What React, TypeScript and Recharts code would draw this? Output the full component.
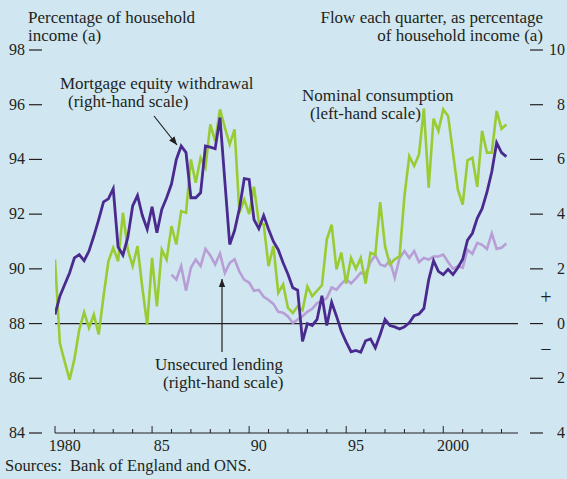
import { Line, LineChart, ReferenceLine, XAxis, YAxis } from "recharts";

const START_YEAR = 1980;

// Nominal consumption, % of household income (left-hand scale)
const consumption = [
  90.34, 87.29, 86.6, 85.95, 86.7, 87.78, 88.41, 87.84, 88.33, 87.6,
  89.0, 90.28, 90.77, 90.28, 92.05, 90.7, 90.1, 90.83, 89.3, 87.95,
  90.4, 88.63, 90.7, 90.34, 91.56, 90.89, 92.11, 92.05, 94.0, 93.15,
  94.06, 93.7, 95.28, 94.67, 95.83, 95.16, 94.55, 95.1, 92.05, 92.54,
  92.0, 93.0, 91.7, 91.62, 90.1, 90.83, 89.12, 89.43, 88.57, 88.39,
  88.63, 88.49, 89.36, 89.0, 89.2, 89.4, 91.07, 91.62, 89.98, 90.59,
  89.46, 90.4, 90.0, 90.4, 89.46, 90.59, 90.52, 92.44, 90.83, 90.16,
  90.35, 90.46, 92.66, 94.12, 93.76, 94.18, 95.86, 92.97, 95.49, 95.04,
  95.83, 95.59, 94.25, 92.9, 92.35, 93.97, 94.06, 93.0, 95.04, 94.25,
  94.25, 95.77, 95.12, 95.28,
];

// Mortgage equity withdrawal, flow as % of household income (right-hand scale)
const mortgageEquityWithdrawal = [
  0.33, 1.0, 1.43, 1.85, 2.4, 2.52, 2.3, 2.65, 3.2, 3.8,
  4.45, 4.56, 4.93, 2.8, 2.5, 3.15, 4.3, 4.68, 3.95, 3.45,
  4.27, 3.32, 4.17, 4.6, 5.1, 6.0, 6.49, 6.25, 4.6, 4.6,
  4.78, 6.49, 6.45, 6.39, 7.53, 5.2, 2.89, 3.4, 4.2, 5.3,
  5.27, 3.8, 3.47, 3.95, 3.45, 3.0, 2.7, 2.22, 1.8, 1.31,
  1.22, -0.65, 0.0, -0.07, 0.15, 1.02, -0.07, 0.78, 0.27, -0.28,
  -0.68, -1.03, -0.98, -1.05, -0.63, -0.56, -0.89, -0.4, 0.15, -0.07,
  -0.12, -0.2, -0.12, 0.03, 0.29, 0.35, 0.55, 1.6, 2.3, 1.91,
  1.79, 1.98, 1.79, 2.04, 2.35, 3.05, 3.3, 3.85, 4.2, 4.8,
  5.55, 6.61, 6.25, 6.1,
];

// Unsecured lending, flow as % of household income (right-hand scale), from 1986
const unsecuredLending = [
  null, null, null, null, null, null, null, null, null, null,
  null, null, null, null, null, null, null, null, null, null,
  null, null, null, null, 1.79, 1.61, 2.1, 1.2, 2.04, 2.34,
  2.1, 2.73, 2.49, 2.16, 2.56, 1.85, 2.22, 2.35, 1.9, 1.6,
  1.5, 1.2, 1.23, 0.98, 0.86, 0.72, 0.43, 0.4, 0.26, 0.02,
  0.15, 0.27, 0.43, 0.54, 0.75, 0.82, 0.93, 1.32, 1.24, 1.45,
  1.63, 1.47, 1.65, 1.86, 1.8, 2.25, 2.5, 2.16, 2.1, 2.3,
  1.67, 2.4, 2.65, 2.4, 2.65, 2.25, 2.4, 2.34, 2.45, 2.45,
  2.52, 2.25, 2.0, 2.1, 2.04, 2.7, 2.55, 2.95, 2.88, 2.73,
  3.3, 2.73, 2.77, 2.93,
];

const yearTicks = [
  1980, 1981, 1982, 1983, 1984, 1985, 1986, 1987, 1988, 1989, 1990, 1991,
  1992, 1993, 1994, 1995, 1996, 1997, 1998, 1999, 2000, 2001, 2002, 2003,
];
const labelledYears = [1980, 1985, 1990, 1995, 2000];
const leftTicks = [84, 86, 88, 90, 92, 94, 96, 98];
const rightTicks = [-4, -2, 0, 2, 4, 6, 8, 10];

const data = consumption.map((c, i) => ({
  t: START_YEAR + i / 4,
  consumption: c,
  mew: mortgageEquityWithdrawal[i],
  unsecured: unsecuredLending[i],
}));

const INK = "#231f20";
const FONT = "'Liberation Serif', 'Times New Roman', serif";
const FS = 16;

function XTick(props: any) {
  const { x, y, payload } = props;
  const v = payload.value;
  if (Number.isInteger(v)) {
    const major = v % 5 === 0;
    return (
      <line x1={x} x2={x} y1={y} y2={y - (major ? 7 : 4)} stroke={INK} strokeWidth={1} />
    );
  }
  const year = Math.floor(v);
  const label = year === 1980 || year === 2000 ? String(year) : String(year % 100);
  return (
    <text x={x} y={y + 18} textAnchor="middle" fill={INK} fontFamily={FONT} fontSize={FS}>
      {label}
    </text>
  );
}

function LeftTick(props: any) {
  const { x, y, payload } = props;
  return (
    <g>
      <line x1={x - 26} x2={x - 13} y1={y} y2={y} stroke={INK} strokeWidth={1.2} />
      <text x={x - 30} y={y + 5} textAnchor="end" fill={INK} fontFamily={FONT} fontSize={FS}>
        {payload.value}
      </text>
    </g>
  );
}

function RightTick(props: any) {
  const { x, y, payload } = props;
  return (
    <g>
      <line x1={x + 12} x2={x + 25} y1={y} y2={y} stroke={INK} strokeWidth={1.2} />
      <text x={x + 47} y={y + 5} textAnchor="end" fill={INK} fontFamily={FONT} fontSize={FS}>
        {Math.abs(payload.value)}
      </text>
    </g>
  );
}

export default function App() {
  const txt = { fill: INK, fontFamily: FONT, fontSize: 17 };
  return (
    <div style={{ position: "absolute", left: 0, top: 0, width: 567, height: 479, background: "#d0e7f1" }}>
      <LineChart
        width={567}
        height={479}
        data={data}
        margin={{ top: 50, right: 0, bottom: 16, left: 0 }}
      >
        <XAxis
          dataKey="t"
          type="number"
          domain={[1980, 2003.85]}
          ticks={[...yearTicks, ...labelledYears.map((y) => y + 0.5)]}
          interval={0}
          tickSize={0}
          tickMargin={0}
          tickLine={false}
          axisLine={{ stroke: INK, strokeWidth: 1 }}
          tick={<XTick />}
          height={30}
          allowDataOverflow
        />
        <YAxis
          yAxisId="left"
          orientation="left"
          domain={[84, 98]}
          ticks={leftTicks}
          interval={0}
          width={55}
          tickSize={0}
          tickMargin={0}
          axisLine={false}
          tickLine={false}
          tick={<LeftTick />}
        />
        <YAxis
          yAxisId="right"
          orientation="right"
          domain={[-4, 10]}
          ticks={rightTicks}
          interval={0}
          width={49}
          tickSize={0}
          tickMargin={0}
          axisLine={false}
          tickLine={false}
          tick={<RightTick />}
        />
        <ReferenceLine yAxisId="left" y={88} stroke={INK} strokeWidth={1.2} />
        <Line
          yAxisId="right"
          type="linear"
          dataKey="unsecured"
          stroke="#b89ed6"
          strokeWidth={2.6}
          dot={false}
          isAnimationActive={false}
        />
        <Line
          yAxisId="left"
          type="linear"
          dataKey="consumption"
          stroke="#99cc33"
          strokeWidth={2.6}
          dot={false}
          isAnimationActive={false}
        />
        <Line
          yAxisId="right"
          type="linear"
          dataKey="mew"
          stroke="#4a2a8e"
          strokeWidth={2.8}
          dot={false}
          isAnimationActive={false}
        />
      </LineChart>
      <svg
        width={567}
        height={479}
        style={{ position: "absolute", left: 0, top: 0, pointerEvents: "none" }}
      >
        <defs>
          <marker id="head" viewBox="0 0 10 10" refX="10" refY="5" markerWidth="7" markerHeight="7" orient="auto">
            <path d="M0,1 L10,5 L0,9 z" fill={INK} />
          </marker>
        </defs>
        <text x={28} y={23} {...txt}>Percentage of household</text>
        <text x={28} y={41} {...txt}>income (a)</text>
        <text x={543} y={23} textAnchor="end" {...txt}>Flow each quarter, as percentage</text>
        <text x={543} y={41} textAnchor="end" {...txt}>of household income (a)</text>
        <text x={60} y={89} {...txt}>Mortgage equity withdrawal</text>
        <text x={68} y={107} {...txt}>(right-hand scale)</text>
        <text x={302} y={101} {...txt}>Nominal consumption</text>
        <text x={310} y={119} {...txt}>(left-hand scale)</text>
        <text x={155} y={370} {...txt}>Unsecured lending</text>
        <text x={163} y={388} {...txt}>(right-hand scale)</text>
        <text x={5} y={471} {...txt} fontSize={16.5} style={{ whiteSpace: "pre" }}>Sources:  Bank of England and ONS.</text>
        <text x={546} y={304} textAnchor="middle" {...txt} fontSize={20}>+</text>
        <text x={546} y={356} textAnchor="middle" {...txt} fontSize={20}>−</text>
        <line x1={154} y1={116} x2={177} y2={145} stroke={INK} strokeWidth={1.2} markerEnd="url(#head)" />
        <line x1={222} y1={352} x2={222} y2={279} stroke={INK} strokeWidth={1.2} markerEnd="url(#head)" />
      </svg>
    </div>
  );
}
